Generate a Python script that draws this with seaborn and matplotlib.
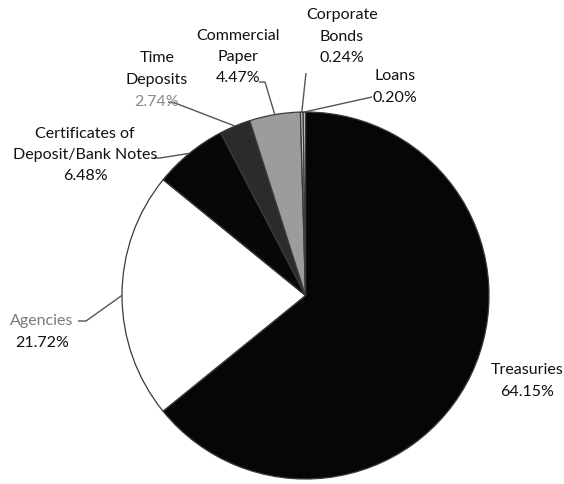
import matplotlib.pyplot as plt
import seaborn as sns
import numpy as np

# %%
categories = ["Treasuries", "Agencies", "Certificates of\nDeposit/Bank Notes",
              "Time\nDeposits", "Commercial\nPaper", "Corporate\nBonds", "Loans"]
shares = [64.15, 21.72, 6.48, 2.74, 4.47, 0.24, 0.20]
pct_labels = ["64.15%", "21.72%", "6.48%", "2.74%", "4.47%", "0.24%", "0.20%"]
colors = ["#060606", "#ffffff", "#070707", "#2b2b2b", "#9c9c9c", "#c8c8c8", "#d0d0d0"]

# %%
sns.set_theme(style="white")
plt.rcParams["font.family"] = ["Lato", "DejaVu Sans"]

W, H = 564, 485
fig = plt.figure(figsize=(W / 100, H / 100), dpi=100)
ax = fig.add_axes([0, 0, 1, 1])

cx, cy, r = 305.5, H - 296.5, 183.5
wedges, _ = ax.pie(shares, colors=colors, startangle=90, counterclock=False,
                   center=(cx, cy), radius=r, frame=True,
                   wedgeprops=dict(edgecolor="#3a3a3a", linewidth=0.9))
ax.set_xlim(0, W)
ax.set_ylim(0, H)
ax.set_aspect("equal")
ax.axis("off")

# label text centre (px), leader elbow / tail (px), grey text flags
label_pos = [(527, 381), (42, 332), (85, 155), (157, 80), (238, 57), (342, 37), (395, 87)]
elbows = [None, (86, 322), (160, 159), (175, 104), (265, 83), (306, 74), (372, 98)]
tails = [None, (78, 322), (154, 159), (168, 103), (259, 83), (306, 74), (372, 98)]
grey_first = [False, True, False, False, False, False, False]
grey_pct = [False, False, False, True, False, False, False]

for w, cat, pct, (tx, ty), el, tl, g1, g2 in zip(
        wedges, categories, pct_labels, label_pos, elbows, tails, grey_first, grey_pct):
    lines = cat.split("\n") + [pct]
    n = len(lines)
    step = 21.5
    for i, line in enumerate(lines):
        yy = ty + (i - (n - 1) / 2) * step
        col = "#111111"
        if g1 and i == 0:
            col = "#7a7a7a"
        if g2 and i == n - 1:
            col = "#8a8a8a"
        ax.text(tx, H - yy, line, ha="center", va="center", fontsize=11.5, color=col)
    if el is not None:
        mid = np.deg2rad((w.theta1 + w.theta2) / 2)
        ex, ey = cx + r * np.cos(mid), cy + r * np.sin(mid)
        ax.plot([tl[0], el[0], ex], [H - tl[1], H - el[1], ey],
                color="#555555", lw=1.0, solid_capstyle="butt")

fig.savefig("out.png", dpi=100)
